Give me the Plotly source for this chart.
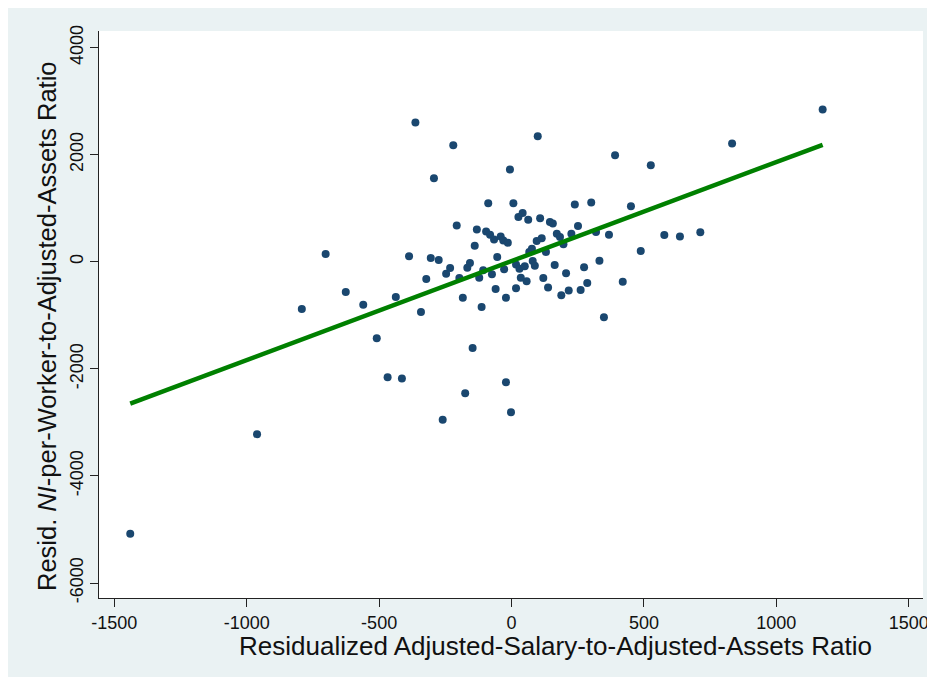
import plotly.graph_objects as go

# residualized salary-to-assets ratio (x) and NI-per-worker ratio (y)
x_salary = [-1440, -961, -792, -702, -626, -560, -509, -468, -437, -414,
            -387, -363, -342, -322, -305, -293, -275, -260, -247, -232,
            -220, -207, -197, -184, -175, -167, -157, -147, -139, -131,
            -122, -113, -107, -96, -88, -81, -74, -66, -60, -54,
            -41, -31, -28, -21, -14, -21, -6, -2, 7, 17,
            17, 26, 30, 35, 42, 50, 57, 63, 67, 77,
            80, 88, 95, 99, 108, 114, 120, 130, 138, 145,
            156, 163, 171, 183, 188, 196, 206, 216, 226, 239,
            251, 261, 274, 286, 301, 319, 332, 349, 368, 391,
            420, 451, 488, 526, 577, 636, 713, 833, 1175]
y_ni = [-5080, -3220, -882, 144, -565, -804, -1429, -2157, -659, -2181,
        101, 2601, -938, -323, 69, 1562, 32, -2953, -222, -118,
        2177, 679, -304, -670, -2455, -110, -24, -1610, 300, 604,
        -297, -845, -160, 567, 1095, 506, -235, 418, -509, 88,
        474, 399, -142, -670, 356, -2250, 1724, -2810, 1095, -49,
        -496, 834, -129, -297, 909, -86, -366, 785, 181, 244,
        13, -73, 386, 2345, 815, 437, -304, 181, -483, 741,
        716, -62, 524, 461, -627, 325, -216, -539, 524, 1071,
        666, -528, -104, -397, 1108, 554, 21, -1037, 506, 1991,
        -371, 1039, 200, 1804, 498, 474, 549, 2209, 2843]

# fitted line end points
fit_x = [-1440, 1175]
fit_y = [-2650, 2185]

x_ticks = [-1500, -1000, -500, 0, 500, 1000, 1500]
x_ticklabels = ["-1500", "-1000", "-500", "0", "500", "1000", "1500"]
y_ticks = [-6000, -4000, -2000, 0, 2000, 4000]
y_ticklabels = ["-6000", "-4000", "-2000", "0", "2000", "4000"]

FONT = "Liberation Sans, Arial, sans-serif"
BG = "#EAF2F3"

fig = go.Figure()
fig.add_trace(go.Scatter(
    x=x_salary, y=y_ni, mode="markers",
    marker=dict(color="#1A476F", size=8, line=dict(width=0)),
    showlegend=False, hoverinfo="x+y"
))
fig.add_trace(go.Scatter(
    x=fit_x, y=fit_y, mode="lines",
    line=dict(color="#008000", width=4.5),
    showlegend=False
))

fig.update_xaxes(
    range=[-1558, 1554], tickvals=x_ticks, ticktext=x_ticklabels,
    ticks="outside", ticklen=8, tickwidth=1, tickcolor="#222",
    showline=True, linecolor="#222", linewidth=1, automargin=False,
    showgrid=False, zeroline=False, tickfont=dict(family=FONT, size=18, color="#111")
)
fig.update_yaxes(
    range=[-6280, 4310], tickvals=y_ticks, ticktext=y_ticklabels,
    ticks="outside", ticklen=8, tickwidth=1, tickcolor="#222",
    showline=True, linecolor="#222", linewidth=1, automargin=False,
    showgrid=False, zeroline=False, tickangle=-90,
    tickfont=dict(family=FONT, size=18, color="#111")
)

fig.update_layout(
    width=922, height=669,
    margin=dict(l=91, r=7, t=23, b=79, autoexpand=False),
    paper_bgcolor=BG, plot_bgcolor="white",
    font=dict(family=FONT, color="#111"),
    annotations=[
        dict(text="Residualized Adjusted-Salary-to-Adjusted-Assets Ratio",
             xref="paper", yref="paper", x=0.5546, y=-0.084, showarrow=False,
             xanchor="center", yanchor="middle", font=dict(family=FONT, size=26)),
        dict(text="Resid. <i>NI</i>-per-Worker-to-Adjusted-Assets Ratio",
             xref="paper", yref="paper", x=-0.0631, y=0.4797, showarrow=False,
             textangle=-90, xanchor="center", yanchor="middle",
             font=dict(family=FONT, size=25.5)),
    ],
)

fig.write_html("out.html")
